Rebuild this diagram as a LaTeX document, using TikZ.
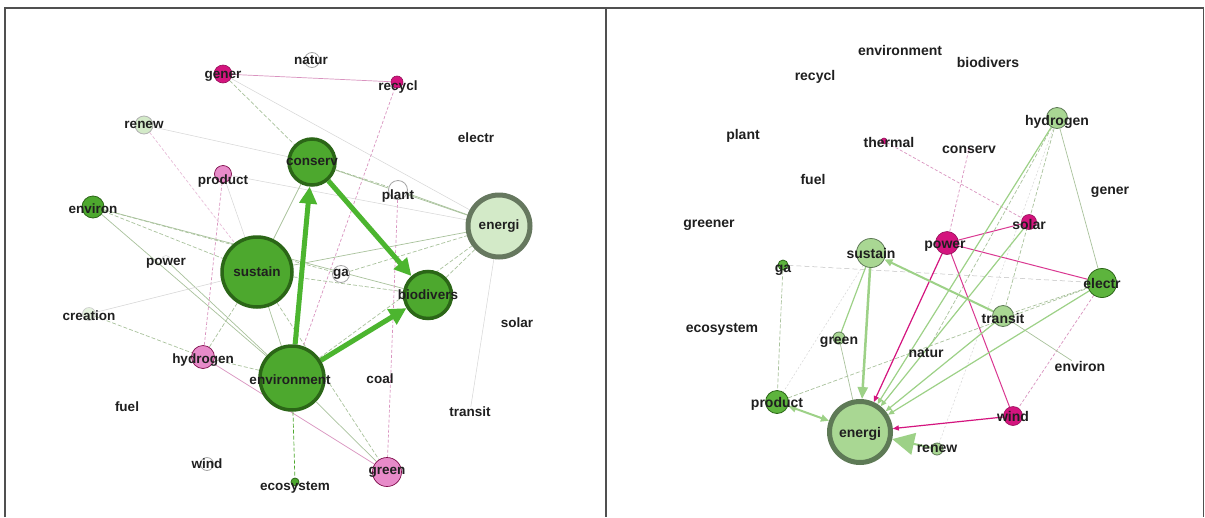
\documentclass[tikz,border=0pt]{standalone}
\usepackage{fontspec}
\setmainfont{Liberation Sans}
\usetikzlibrary{arrows.meta,backgrounds}
\pgfdeclarelayer{bottom}
\pgfsetlayers{bottom,background,main}

\definecolor{gfill}{HTML}{4DA82E}
\definecolor{gline}{HTML}{2B6617}
\definecolor{lgfill}{HTML}{D3EAC8}
\definecolor{lgline}{HTML}{66785F}
\definecolor{rgfill}{HTML}{A9D793}
\definecolor{rgline}{HTML}{5E7A56}
\definecolor{mgfill}{HTML}{5DB43D}
\definecolor{mag}{HTML}{D4147E}
\definecolor{pinkf}{HTML}{E78BC9}
\definecolor{arrL}{HTML}{4CB52F}
\definecolor{arrR}{HTML}{9DD187}
\definecolor{edgeG}{HTML}{A9C29C}
\definecolor{edgeP}{HTML}{D993BF}
\definecolor{framec}{HTML}{505050}

\tikzset{
  lbl/.style={font=\fontsize{13.5}{14}\selectfont\bfseries, text=black!88, inner sep=0pt},
  rlbl/.style={font=\fontsize{14}{14}\selectfont\bfseries, text=black!88, inner sep=0pt},
  dot/.style={circle, inner sep=0pt, minimum size=#1},
  gbig/.style={dot=#1, fill=gfill, draw=gline, line width=3.5pt},
  gsmall/.style={dot=#1, fill=gfill, draw=gline, line width=0.8pt},
  lgsmall/.style={dot=#1, fill=lgfill, draw=gray!60, line width=0.8pt},
  wsmall/.style={dot=#1, fill=white, draw=gray!70, line width=0.8pt},
  magsmall/.style={dot=#1, fill=mag, draw=mag!70!black, line width=0.6pt},
  pinksmall/.style={dot=#1, fill=pinkf, draw=mag!60!black, line width=0.7pt},
  rgsmall/.style={dot=#1, fill=rgfill, draw=rgline, line width=0.8pt},
  mgsmall/.style={dot=#1, fill=mgfill, draw=gline, line width=0.8pt},
  eg/.style={draw=edgeG, line width=0.7pt},
  egd/.style={eg, dash pattern=on 4pt off 2pt},
  ep/.style={draw=edgeP, line width=0.7pt},
  epd/.style={ep, dash pattern=on 3pt off 2pt},
  ef/.style={draw=black!16, line width=0.5pt},
  bigarrow/.style={draw=arrL, line width=5pt, -{Triangle[length=17pt,width=17pt]}},
  rarrow/.style={draw=arrR, line width=1.2pt, -{Triangle[length=6pt,width=5pt]}},
  marrow/.style={draw=mag, line width=1.2pt, -{Triangle[length=6pt,width=5pt]}},
  mline/.style={draw=mag!85, line width=1pt}
}

\begin{document}
\begin{tikzpicture}[x=1pt,y=-1pt]
\useasboundingbox (0,0) rectangle (1205,517);
\begin{pgfonlayer}{bottom}
  \fill[white] (0,0) rectangle (1205,517);
\end{pgfonlayer}

% panel frame
\draw[framec, line width=1.3pt] (5,517) -- (5,8) -- (1203.5,8) -- (1203.5,517);
\draw[framec, line width=1.3pt] (606,8) -- (606,517);

% ---------------- left network ----------------
\node[magsmall=18pt, label={[lbl,yshift=-2pt]center:gener}] (a-gener) at (223,74) {};
\node[wsmall=15pt, label={[lbl,xshift=-1pt]center:natur}] (a-natur) at (312,60) {};
\node[magsmall=12pt, label={[lbl,yshift=-5pt,xshift=1pt]center:recycl}] (a-recycl) at (397,82) {};
\node[lgsmall=18pt, label={[lbl]center:renew}] (a-renew) at (144,125) {};
\node[lbl] (a-electr) at (476,138) {electr};
\node[gbig=46pt, label={[lbl]center:conserv}] (a-conserv) at (312,162) {};
\node[pinksmall=17pt, label={[lbl,yshift=-7pt]center:product}] (a-product) at (223,174) {};
\node[wsmall=19pt, label={[lbl,yshift=-6pt]center:plant}] (a-plant) at (398,190) {};
\node[gsmall=22pt, label={[lbl,yshift=-2pt]center:environ}] (a-environ) at (93,207) {};
\node[dot=62pt, fill=lgfill, draw=lgline, line width=5pt, label={[lbl]center:energi}] (a-energi) at (499,226) {};
\node[gbig=70pt, label={[lbl]center:sustain}] (a-sustain) at (257,272) {};
\node[dot=9pt, draw=gray!30, line width=0.5pt, label={[lbl,yshift=-3pt]center:power}] (a-power) at (166,260) {};
\node[wsmall=17pt, label={[lbl]center:ga}] (a-ga) at (341,274) {};
\node[gbig=47pt, label={[lbl]center:biodivers}] (a-biodivers) at (428,295) {};
\node[lbl] (a-solar) at (517,323) {solar};
\node[dot=13pt, fill=lgfill!60, draw=gray!40, line width=0.6pt, label={[lbl,yshift=-2pt]center:creation}] (a-creation) at (89,314) {};
\node[pinksmall=23pt, label={[lbl,yshift=-3pt]center:hydrogen}] (a-hydrogen) at (203,357) {};
\node[gbig=64pt, label={[lbl,xshift=-2pt,yshift=-2pt]center:environment}] (a-environment) at (292,378) {};
\node[lbl] (a-coal) at (380,379) {coal};
\node[lbl] (a-fuel) at (127,407) {fuel};
\node[lbl] (a-transit) at (470,412) {transit};
\node[wsmall=13pt, label={[lbl]center:wind}] (a-wind) at (207,464) {};
\node[gsmall=8pt, label={[lbl,yshift=-5pt]center:ecosystem}] (a-ecosystem) at (295,482) {};
\node[pinksmall=29pt, label={[lbl]center:green}] (a-green) at (387,472) {};

% ---------------- right network ----------------
\node[rlbl] (b-environment) at (900,50) {environment};
\node[rlbl] (b-biodivers) at (988,62) {biodivers};
\node[rlbl] (b-recycl) at (815,77) {recycl};
\node[rlbl] (b-plant) at (743,136) {plant};
\node[magsmall=6pt, label={[rlbl,xshift=5pt,yshift=-1pt]center:thermal}] (b-thermal) at (884,141) {};
\node[dot=3pt, fill=pinkf, label={[rlbl,yshift=-1pt]center:conserv}] (b-conserv) at (969,149) {};
\node[rgsmall=21pt, label={[rlbl,yshift=-4pt]center:hydrogen}] (b-hydrogen) at (1057,118) {};
\node[rlbl] (b-fuel) at (813,179) {fuel};
\node[rlbl] (b-gener) at (1110,192) {gener};
\node[rlbl] (b-greener) at (709,225) {greener};
\node[magsmall=15pt, label={[rlbl,yshift=-2pt]center:solar}] (b-solar) at (1029,222) {};
\node[magsmall=23pt, label={[rlbl,xshift=-2pt,yshift=-3pt]center:power}] (b-power) at (947,243) {};
\node[rgsmall=29pt, label={[rlbl]center:sustain}] (b-sustain) at (871,253) {};
\node[mgsmall=10pt, label={[rlbl,yshift=-5pt]center:ga}] (b-ga) at (783,265) {};
\node[mgsmall=29pt, label={[rlbl]center:electr}] (b-electr) at (1102,283) {};
\node[rgsmall=21pt, label={[rlbl,yshift=-2pt]center:transit}] (b-transit) at (1003,316) {};
\node[rlbl] (b-ecosystem) at (722,329) {ecosystem};
\node[rgsmall=12pt, label={[rlbl,yshift=-4pt]center:green}] (b-green) at (839,338) {};
\node[rlbl] (b-natur) at (926,353) {natur};
\node[rlbl] (b-environ) at (1080,366) {environ};
\node[mgsmall=23pt, label={[rlbl,yshift=-2pt]center:product}] (b-product) at (777,402) {};
\node[dot=61pt, fill=rgfill, draw=rgline, line width=5pt, label={[rlbl,yshift=-2pt]center:energi}] (b-energi) at (860,432) {};
\node[magsmall=19pt, label={[rlbl]center:wind}] (b-wind) at (1013,416) {};
\node[rgsmall=12pt, label={[rlbl]center:renew}] (b-renew) at (937,449) {};

\begin{pgfonlayer}{background}
  % left: thin links
  \draw[ep] (a-gener) -- (a-recycl);
  \draw[egd] (a-gener) -- (a-conserv);
  \draw[ef] (a-gener) -- (a-energi);
  \draw[epd] (a-recycl) -- (a-environment);
  \draw[ef] (a-renew) -- (a-conserv);
  \draw[epd, draw=edgeP!60] (a-renew) -- (a-sustain);
  \draw[epd] (a-product) -- (a-hydrogen);
  \draw[ef] (a-product) -- (a-sustain);
  \draw[ef] (a-product) -- (a-energi);
  \draw[egd] (a-environ) -- (a-sustain);
  \draw[egd] (a-environ) -- (a-ga);
  \draw[eg] (a-environ) -- (a-biodivers);
  \draw[eg] (a-environ) -- (a-environment);
  \draw[eg] (a-conserv) -- (a-energi);
  \draw[egd] (a-conserv) -- (a-plant);
  \draw[eg] (a-conserv) -- (a-sustain);
  \draw[eg] (a-plant) -- (a-energi);
  \draw[epd] (a-plant) -- (a-green);
  \draw[eg] (a-sustain) -- (a-energi);
  \draw[egd] (a-sustain) -- (a-biodivers);
  \draw[eg] (a-sustain) -- (a-environment);
  \draw[egd] (a-sustain) -- (a-green);
  \draw[egd] (a-ga) -- (a-energi);
  \draw[eg] (a-power) -- (a-environment);
  \draw[ef] (a-creation) -- (a-sustain);
  \draw[egd] (a-creation) -- (a-hydrogen);
  \draw[egd] (a-hydrogen) -- (a-environment);
  \draw[egd] (a-hydrogen) -- (a-sustain);
  \draw[ep] (a-hydrogen) -- (a-green);
  \draw[egd, draw=gfill] (a-environment) -- (a-ecosystem);
  \draw[eg] (a-environment) -- (a-green);
  \draw[egd] (a-environment) -- (a-energi);
  \draw[egd] (a-biodivers) -- (a-energi);
  \draw[ef] (a-energi) -- (a-transit);
  % left: heavy links
  \draw[bigarrow] (a-environment) -- (a-conserv);
  \draw[bigarrow] (a-conserv) -- (a-biodivers);
  \draw[bigarrow] (a-environment) -- (a-biodivers);

  % right: thin links
  \draw[epd] (b-thermal) -- (b-solar);
  \draw[epd] (b-conserv) -- (b-power);
  \draw[epd] (b-electr) -- (b-wind);
  \draw[ef, dash pattern=on 5pt off 3pt, draw=black!25] (b-ga) -- (b-electr);
  \draw[egd] (b-ga) -- (b-product);
  \draw[egd] (b-product) -- (b-electr);
  \draw[egd] (b-electr) -- (b-transit);
  \draw[eg] (b-hydrogen) -- (b-electr);
  \draw[egd] (b-hydrogen) -- (b-transit);
  \draw[egd] (b-hydrogen) -- (b-natur);
  \draw[ef, dash pattern=on 2pt off 2pt] (b-renew) -- (b-hydrogen);
  \draw[eg] (b-transit) -- (b-environ);
  \draw[eg, draw=arrR, line width=1.2pt] (b-sustain) -- (b-green);
  \draw[ef, dash pattern=on 2pt off 2pt] (b-sustain) -- (b-product);
  \draw[eg] (b-green) -- (b-energi);
  \draw[mline] (b-power) -- (b-solar);
  \draw[mline] (b-power) -- (b-electr);
  \draw[mline] (b-power) -- (b-wind);
  % right: directed links
  \draw[rarrow] (b-hydrogen) -- (b-energi);
  \draw[rarrow] (b-solar) -- (b-energi);
  \draw[rarrow] (b-transit) -- (b-energi);
  \draw[rarrow] (b-electr) -- (b-energi);
  \draw[marrow] (b-power) -- (b-energi);
  \draw[marrow] (b-wind) -- (b-energi);
  \draw[draw=arrR, line width=2.5pt, -{Triangle[length=12pt,width=10pt]}] (b-sustain) -- (b-energi);
  \draw[draw=arrR, line width=2pt, -{Triangle[length=8pt,width=7pt]}] (b-transit) -- (b-sustain);
  \draw[draw=arrR, line width=2pt, {Triangle[length=8pt,width=7pt]}-{Triangle[length=8pt,width=7pt]}] (b-product) -- (b-energi);
  \draw[draw=arrR, line width=2pt, -{Triangle[length=22pt,width=22pt]}] (b-renew) -- (b-energi);
\end{pgfonlayer}
\end{tikzpicture}
\end{document}
